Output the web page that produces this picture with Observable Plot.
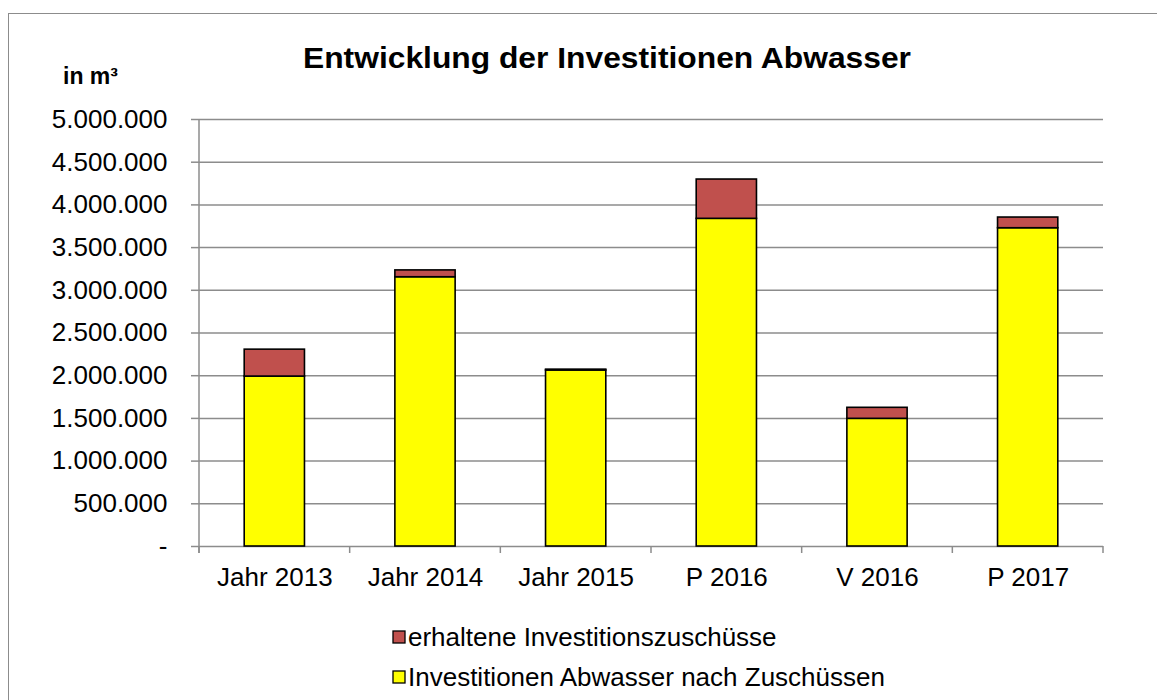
<!DOCTYPE html>
<html><head><meta charset="utf-8">
<script src="https://cdn.jsdelivr.net/npm/d3@7"></script>
<script src="https://cdn.jsdelivr.net/npm/@observablehq/plot@0.6"></script>
<style>
html,body{margin:0;padding:0;background:#fff;overflow:hidden;}
#wrap{position:relative;width:1157px;height:700px;overflow:hidden;font-family:"Liberation Sans",Arial,sans-serif;}
#frame{position:absolute;left:8px;top:13px;width:1400px;height:1000px;border:1.5px solid #8c8c8c;box-sizing:border-box;}
#chart{position:absolute;left:0;top:0;}
</style>
</head><body>
<div id="wrap"><div id="frame"></div><div id="chart"></div></div>
<script>
const categories = ["Jahr 2013", "Jahr 2014", "Jahr 2015", "P 2016", "V 2016", "P 2017"];
const nachZuschuessen = [1990000, 3153000, 2061000, 3837000, 1495000, 3727000];
const zuschuesse = [315000, 80000, 10000, 460000, 129000, 125000];
const seriesNames = ["Investitionen Abwasser nach Zuschüssen", "erhaltene Investitionszuschüsse"];
const seriesColors = ["#FFFF00", "#C0504D"];
const yTicks = [0, 500000, 1000000, 1500000, 2000000, 2500000, 3000000, 3500000, 4000000, 4500000, 5000000];
const titleText = "Entwicklung der Investitionen Abwasser";
const unitText = "in m³";

const rows = [];
categories.forEach((c, i) => {
  rows.push({cat: c, series: seriesNames[0], value: nachZuschuessen[i]});
  rows.push({cat: c, series: seriesNames[1], value: zuschuesse[i]});
});

const fmt = d => d === 0 ? "-" : d3.format(",")(d).replace(/,/g, ".");
const FONT = "Liberation Sans, Arial, sans-serif";

const plot = Plot.plot({
  width: 1157,
  height: 700,
  marginLeft: 199,
  marginRight: 54,
  marginTop: 119,
  marginBottom: 154,
  style: {fontFamily: FONT, fontSize: "26px", background: "transparent", color: "black"},
  x: {domain: categories, paddingInner: 0.6, paddingOuter: 0.3, round: false, label: null, tickSize: 0, tickPadding: 21},
  y: {domain: [0, 5000000], ticks: yTicks, tickFormat: fmt, label: null, tickSize: 8, tickPadding: 24},
  color: {domain: seriesNames, range: seriesColors},
  marks: [
    Plot.ruleY(yTicks, {stroke: "#8c8c8c", strokeWidth: 1.5}),
    Plot.barY(rows, {x: "cat", y: "value", fill: "series", stroke: "black", strokeWidth: 1.6, order: seriesNames})
  ]
});
document.getElementById("chart").appendChild(plot);

const svg = d3.select(plot);
svg.selectAll('[aria-label="y-axis tick"]').attr("stroke", "#8c8c8c").attr("stroke-width", 1.5);
const xs = plot.scale("x"), ys = plot.scale("y");
const step = xs.step, bw = xs.bandwidth;
const x0 = xs.apply(categories[0]) - (step - bw) / 2;
const yBase = ys.apply(0);
const g = svg.append("g").attr("stroke", "#8c8c8c").attr("stroke-width", 1.5);
g.append("line").attr("x1", x0).attr("x2", x0).attr("y1", ys.apply(5000000)).attr("y2", yBase + 7);
d3.range(categories.length + 1).forEach(i => {
  const x = x0 + i * step;
  g.append("line").attr("x1", x).attr("x2", x).attr("y1", yBase).attr("y2", yBase + 7);
});
svg.append("text").attr("x", 607).attr("y", 68).attr("text-anchor", "middle")
  .attr("font-family", FONT).attr("font-weight", "bold").attr("font-size", 29).attr("fill", "black")
  .attr("textLength", 608).attr("lengthAdjust", "spacingAndGlyphs").text(titleText);
svg.append("text").attr("x", 63).attr("y", 84).attr("text-anchor", "start").attr("font-family", FONT).attr("font-weight", "bold")
  .attr("font-size", 23).attr("fill", "black").text(unitText);
const legendOrder = [1, 0];
legendOrder.forEach((si, k) => {
  const cy = 637 + k * 40;
  svg.append("rect").attr("x", 393).attr("y", cy - 6).attr("width", 12).attr("height", 12)
    .attr("fill", seriesColors[si]).attr("stroke", "black").attr("stroke-width", 1.3);
  svg.append("text").attr("x", 408).attr("y", cy + 9).attr("text-anchor", "start").attr("font-family", FONT).attr("font-size", 26)
    .attr("fill", "black").text(seriesNames[si]);
});
</script>
</body></html>
